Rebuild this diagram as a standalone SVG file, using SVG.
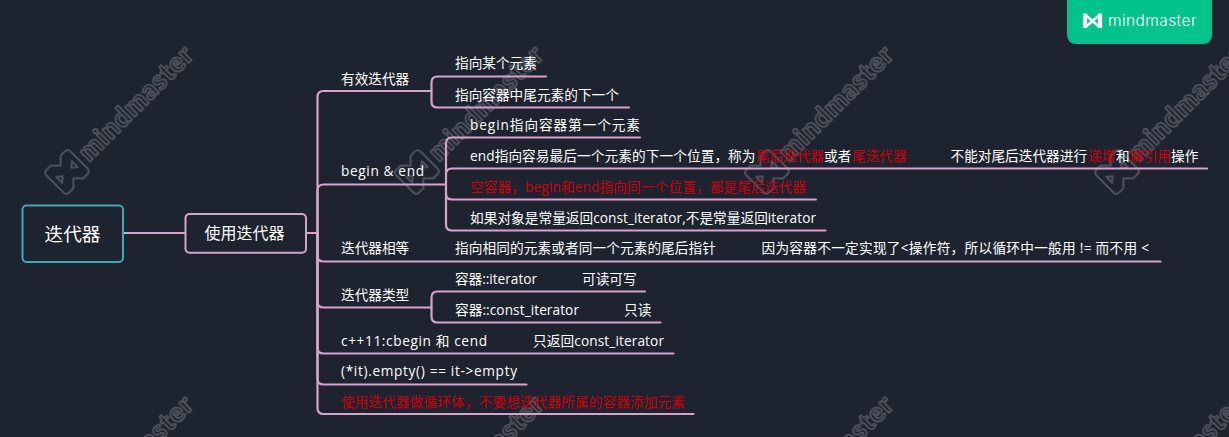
<svg xmlns="http://www.w3.org/2000/svg" width="1229" height="437" viewBox="0 0 1229 437">
<style>
text{font-family:"Open Sans","Noto Sans CJK SC",sans-serif;font-size:13.67px;fill:#fff}
.r,.r tspan{fill:#cc000c}
.c{fill:none;stroke:#d9a2cb;stroke-width:2.2;stroke-linecap:round}
.wm{font-family:"Lato","Noto Sans",sans-serif;font-size:27px;font-weight:900;fill:none;stroke:#4a4e59;stroke-width:2;stroke-linejoin:round}
.wl{fill:none;stroke:#4a4e59;stroke-width:2.200;stroke-linejoin:round}
</style>
<defs>
<g id="mark">
<g transform="rotate(-45)">
<text class="wm" x="22" y="9" textLength="150" lengthAdjust="spacing">mindmaster</text>
<path class="wl" d="M-17 -12Q-17 -16 -13 -16H-7L0 -9L7 -16H13Q17 -16 17 -12V12Q17 16 13 16H7L0 9L-7 16H-13Q-17 16 -17 12Z"/>
<path class="wl" d="M-11 -4V4L-6 0Z M11 -4V4L6 0Z"/>
</g>
</g>
</defs>
<rect width="1229" height="437" fill="#1e2330"/>
<g id="watermarks">
<use href="#mark" x="67" y="172"/>
<use href="#mark" x="417" y="172"/>
<use href="#mark" x="767" y="172"/>
<use href="#mark" x="1117" y="172"/>
<use href="#mark" x="67" y="522"/>
<use href="#mark" x="417" y="522"/>
<use href="#mark" x="767" y="522"/>
<use href="#mark" x="1117" y="522"/>
</g>
<g id="badge">
<path d="M1067 0H1212V34Q1212 44 1202 44H1077Q1067 44 1067 34Z" fill="#02c38b"/>
<path d="M1085 13.500V28M1100 13.500V28" fill="none" stroke="#fff" stroke-width="4.200"/>
<path d="M1085 14.500L1100 27.500M1100 14.500L1085 27.500" fill="none" stroke="#fff" stroke-width="2.600"/>
<text x="1108" y="26" textLength="88.500" lengthAdjust="spacing" style="font-family:Inter,sans-serif;font-size:15.500px;font-weight:300">mindmaster</text>
</g>
<g id="connectors">
<path class="c" d="M123 233H185M306 233H317.500"/>
<path class="c" d="M317.500 233V97Q317.500 91 323.500 91H431.500"/>
<path class="c" d="M431.500 91V82.500Q431.500 76.500 437.500 76.500H546M431.500 91V101.500Q431.500 107.500 437.500 107.500H629"/>
<path class="c" d="M317.500 233V190.500Q317.500 184.500 323.500 184.500H446"/>
<path class="c" d="M446 184.500V143.500Q446 137.500 452 137.500H640M446 184.500V174.500Q446 168.500 452 168.500H1207M446 184.500V193.500Q446 199.500 452 199.500H816M446 184.500V224.500Q446 230.500 452 230.500H825.500"/>
<path class="c" d="M317.500 233V255.500Q317.500 261.500 323.500 261.500H1160.500"/>
<path class="c" d="M317.500 233V301.500Q317.500 307.500 323.500 307.500H431.500"/>
<path class="c" d="M431.500 307.500V297.500Q431.500 291.500 437.500 291.500H645M431.500 307.500V316.500Q431.500 322.500 437.500 322.500H660.500"/>
<path class="c" d="M317.500 233V347.500Q317.500 353.500 323.500 353.500H673.500"/>
<path class="c" d="M317.500 233V378.500Q317.500 384.500 323.500 384.500H526.500"/>
<path class="c" d="M317.500 233V408Q317.500 414 323.500 414H693.500"/>
</g>
<g id="root"><rect x="22.500" y="205.500" width="100.500" height="56.500" rx="4" fill="#1e2330" stroke="#3fa8ae" stroke-width="2"/><text x="72.500" y="240.500" text-anchor="middle" style="font-size:18.670px">迭代器</text></g>
<g id="n-use"><rect x="185.500" y="214" width="120.500" height="38.700" rx="4" fill="#1e2330" stroke="#d9a2cb" stroke-width="2"/><text x="244.500" y="238.500" text-anchor="middle" style="font-size:16px">使用迭代器</text></g>
<g id="n-valid"><text x="341" y="84">有效迭代器</text></g>
<g id="n-valid-1"><text x="455" y="68">指向某个元素</text></g>
<g id="n-valid-2"><text x="455" y="100">指向容器中尾元素的下一个</text></g>
<g id="n-be"><text x="341" y="176" textLength="83" lengthAdjust="spacing">begin &amp; end</text></g>
<g id="n-be-1"><text x="470" y="130" textLength="170" lengthAdjust="spacing">begin指向容器第一个元素</text></g>
<g id="n-be-2"><text x="470" y="161" textLength="285.500" lengthAdjust="spacing">end指向容易最后一个元素的下一个位置，称为</text><text class="r" x="756" y="161">尾后迭代器</text><text x="824" y="161">或者</text><text class="r" x="852" y="161">尾迭代器</text><text x="950.500" y="161">不能对尾后迭代器进行</text><text class="r" x="1088" y="161">递增</text><text x="1116" y="161">和</text><text class="r" x="1130" y="161">解引用</text><text x="1171" y="161">操作</text></g>
<g id="n-be-3"><text class="r" x="470" y="192" textLength="336" lengthAdjust="spacing">空容器，begin和end指向同一个位置，都是尾后迭代器</text></g>
<g id="n-be-4"><text x="470" y="223" textLength="346" lengthAdjust="spacing">如果对象是常量返回const_iterator,不是常量返回iterator</text></g>
<g id="n-eq"><text x="341" y="253">迭代器相等</text></g>
<g id="n-eq-1"><text x="455" y="253" textLength="261" lengthAdjust="spacing">指向相同的元素或者同一个元素的尾后指针</text></g>
<g id="n-eq-2"><text x="761.500" y="253" textLength="387.500" lengthAdjust="spacing">因为容器不一定实现了&lt;操作符，所以循环中一般用 != 而不用 &lt;</text></g>
<g id="n-type"><text x="341" y="300">迭代器类型</text></g>
<g id="n-type-1"><text x="455" y="284" textLength="82" lengthAdjust="spacing">容器::iterator</text><text x="582" y="284">可读可写</text></g>
<g id="n-type-2"><text x="455" y="315" textLength="124" lengthAdjust="spacing">容器::const_iterator</text><text x="624" y="315">只读</text></g>
<g id="n-c11"><text x="341" y="346" textLength="146" lengthAdjust="spacing">c++11:cbegin 和 cend</text><text x="533" y="346" textLength="131" lengthAdjust="spacing">只返回const_iterator</text></g>
<g id="n-empty"><text x="341" y="376" textLength="176" lengthAdjust="spacing">(*it).empty() == it-&gt;empty</text></g>
<g id="n-warn"><text class="r" x="341" y="407" textLength="344" lengthAdjust="spacing">使用迭代器做循环体，不要想迭代器所属的容器添加元素</text></g>
</svg>
